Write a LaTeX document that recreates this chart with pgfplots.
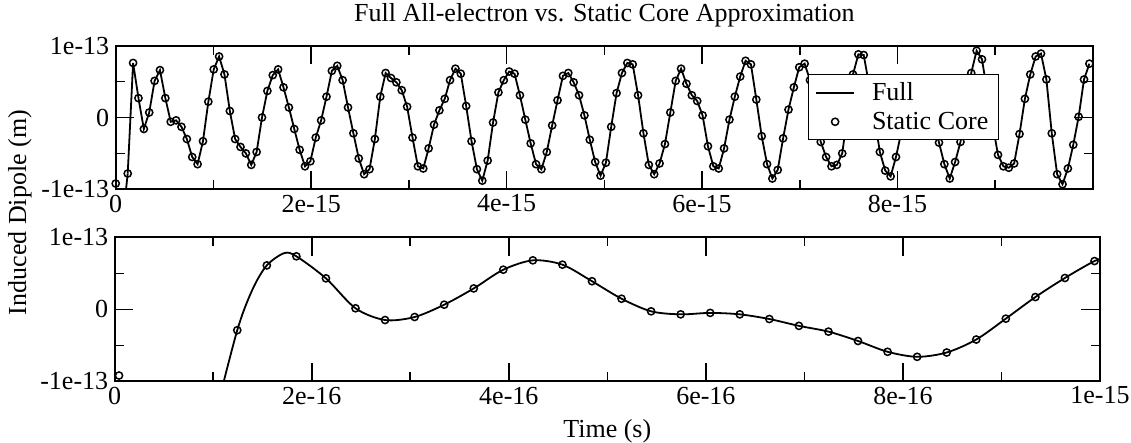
\documentclass[border=0pt]{standalone}
\usepackage{fontspec}
\setmainfont{Liberation Serif}
\usepackage{pgfplots}
\usepackage{pgfplotstable}
\pgfplotsset{compat=1.18}

% time in units of 1e-15 s, dipole in units of 1e-13 m
\pgfplotstableread{
t y
0.000 -0.92
0.123 -0.78
0.178 0.76
0.233 0.27
0.288 -0.16
0.343 0.07
0.398 0.51
0.453 0.66
0.508 0.27
0.563 -0.06
0.618 -0.04
0.673 -0.13
0.728 -0.30
0.783 -0.55
0.838 -0.65
0.893 -0.33
0.948 0.22
1.003 0.67
1.058 0.85
1.113 0.60
1.168 0.09
1.222 -0.30
1.277 -0.41
1.332 -0.50
1.387 -0.66
1.442 -0.48
1.497 0.00
1.552 0.37
1.607 0.59
1.662 0.67
1.717 0.42
1.772 0.14
1.827 -0.16
1.882 -0.45
1.937 -0.68
1.992 -0.61
2.047 -0.28
2.102 -0.04
2.157 0.29
2.212 0.65
2.267 0.72
2.322 0.52
2.377 0.14
2.432 -0.22
2.487 -0.57
2.542 -0.79
2.597 -0.72
2.652 -0.30
2.707 0.29
2.762 0.62
2.817 0.55
2.872 0.49
2.927 0.38
2.982 0.15
3.037 -0.28
3.092 -0.68
3.147 -0.71
3.202 -0.43
3.257 -0.10
3.312 0.10
3.367 0.26
3.421 0.52
3.476 0.68
3.531 0.61
3.586 0.16
3.641 -0.33
3.696 -0.72
3.751 -0.88
3.806 -0.60
3.861 -0.07
3.916 0.35
3.971 0.52
4.026 0.64
4.081 0.61
4.136 0.31
4.191 -0.03
4.246 -0.36
4.301 -0.65
4.356 -0.72
4.411 -0.48
4.466 -0.11
4.521 0.24
4.576 0.58
4.631 0.62
4.686 0.49
4.741 0.31
4.796 0.03
4.851 -0.31
4.906 -0.62
4.961 -0.81
5.016 -0.63
5.070 -0.13
5.125 0.34
5.180 0.62
5.235 0.76
5.290 0.74
5.345 0.31
5.400 -0.22
5.455 -0.66
5.510 -0.79
5.565 -0.64
5.620 -0.37
5.675 0.07
5.730 0.51
5.785 0.68
5.840 0.47
5.895 0.31
5.950 0.23
6.005 0.03
6.060 -0.40
6.115 -0.68
6.170 -0.71
6.225 -0.43
6.280 -0.03
6.335 0.29
6.390 0.57
6.445 0.79
6.500 0.74
6.555 0.25
6.610 -0.26
6.665 -0.65
6.719 -0.85
6.774 -0.73
6.829 -0.29
6.884 0.11
6.939 0.42
6.994 0.70
7.049 0.75
7.104 0.52
7.159 0.10
7.214 -0.34
7.269 -0.55
7.324 -0.68
7.379 -0.66
7.434 -0.50
7.489 0.05
7.544 0.60
7.599 0.88
7.654 0.87
7.709 0.45
7.764 0.00
7.819 -0.48
7.874 -0.74
7.929 -0.82
7.984 -0.55
8.039 -0.20
8.094 0.10
8.149 0.35
8.204 0.50
8.259 0.50
8.314 0.30
8.369 0.00
8.424 -0.35
8.479 -0.65
8.534 -0.85
8.589 -0.62
8.644 -0.34
8.699 0.15
8.754 0.62
8.809 0.93
8.864 0.81
8.918 0.35
8.973 -0.10
9.028 -0.52
9.083 -0.68
9.138 -0.70
9.193 -0.64
9.248 -0.23
9.303 0.26
9.358 0.60
9.413 0.85
9.468 0.89
9.523 0.53
9.578 -0.22
9.633 -0.79
9.688 -0.93
9.743 -0.71
9.798 -0.38
9.853 0.01
9.908 0.53
9.963 0.75
}\topcore

% time in units of 1e-16 s, dipole in units of 1e-13 m
\pgfplotstableread{
t y
0.044 -0.92
1.244 -0.29
1.544 0.61
1.844 0.736
2.144 0.43
2.444 0.014
2.744 -0.149
3.044 -0.107
3.344 0.064
3.644 0.29
3.944 0.55
4.244 0.68
4.544 0.62
4.844 0.39
5.144 0.147
5.444 -0.028
5.744 -0.07
6.044 -0.05
6.344 -0.07
6.644 -0.135
6.944 -0.23
7.244 -0.31
7.544 -0.44
7.844 -0.59
8.144 -0.66
8.444 -0.60
8.744 -0.42
9.044 -0.13
9.344 0.17
9.644 0.435
9.944 0.67
}\botcore

\pgfplotstableread{
t y
1.000 -1.58
1.244 -0.29
1.400 0.28
1.544 0.61
1.720 0.78
1.844 0.736
2.144 0.43
2.444 0.014
2.744 -0.149
3.044 -0.107
3.344 0.064
3.644 0.29
3.944 0.55
4.244 0.68
4.544 0.62
4.844 0.39
5.144 0.147
5.444 -0.028
5.744 -0.07
6.044 -0.05
6.344 -0.07
6.644 -0.135
6.944 -0.23
7.244 -0.31
7.544 -0.44
7.844 -0.59
8.144 -0.66
8.444 -0.60
8.744 -0.42
9.044 -0.13
9.344 0.17
9.644 0.435
9.944 0.67
10.100 0.74
}\botfull

\pgfplotsset{
  common/.style={
    scale only axis,
    xmin=0, xmax=10, ymin=-1, ymax=1,
    axis line style={line width=1.8pt},
    major tick length=18.7pt,
    minor tick length=9pt,
    tick style={black, line width=1.6pt},
    tick align=inside,
    tick label style={font=\fontsize{26}{31}\selectfont},
    xticklabel style={yshift=-2pt},
    yticklabel style={xshift=-3pt},
    ytick={-1,0,1},
    yticklabels={-1e-13,0,1e-13},
    minor ytick={-0.5,0.5},
    minor xtick={1,3,5,7,9},
  },
  fullline/.style={black, line width=1.8pt, mark=none},
  coremarks/.style={black, only marks, mark=o, mark size=3.6pt, line width=1.5pt},
}

\begin{document}
\begin{tikzpicture}
\useasboundingbox (0,0) rectangle (1131pt,442pt);

\node[anchor=base, font=\fontsize{26}{31}\selectfont] at (604.4pt,420pt)
  {Full All-electron vs. Static Core Approximation};
\node[rotate=90, anchor=base, font=\fontsize{26}{31}\selectfont] at (26pt,229.5pt)
  {Induced Dipole (m)};
\node[anchor=base, font=\fontsize{26}{31}\selectfont] at (607.3pt,5pt)
  {Time (s)};

\begin{axis}[common,
  at={(115.7pt,252.7pt)}, anchor=south west,
  width=977.3pt, height=143.6pt,
  xtick={0,2,4,6,8},
  xticklabels={0,2e-15,4e-15,6e-15,8e-15},
  legend cell align=left,
  legend style={at={(0.708,0.801)}, anchor=north west,
    draw=black, line width=1.2pt, fill=white,
    font=\fontsize{26}{29}\selectfont,
    inner xsep=7pt, inner ysep=5pt,
    nodes={inner sep=3pt},
    row sep=4pt,
    /tikz/every odd column/.append style={column sep=14pt}},
]
\addplot[fullline, forget plot] coordinates {(0.090,-1.2) (0.123,-0.78)};
\addplot[fullline, sharp plot,
  legend image code/.code={\draw[black, line width=1.8pt] (0pt,0pt) -- (38pt,0pt);}]
  table[x=t, y=y, skip coords between index={0}{1}] {\topcore};
\addlegendentry{Full}
\addplot[coremarks,
  legend image code/.code={\draw[black, line width=1.5pt, mark=o, mark size=3.6pt] plot coordinates {(19pt,0pt)};}]
  table[x=t, y=y] {\topcore};
\addlegendentry{Static Core}
\end{axis}

\begin{axis}[common,
  at={(114.7pt,60.7pt)}, anchor=south west,
  width=985.3pt, height=144pt,
  xtick={0,2,4,6,8,10},
  xticklabels={0,2e-16,4e-16,6e-16,8e-16,1e-15},
]
\addplot[fullline, smooth] table[x=t, y=y] {\botfull};
\addplot[coremarks] table[x=t, y=y] {\botcore};
\end{axis}
\end{tikzpicture}
\end{document}
